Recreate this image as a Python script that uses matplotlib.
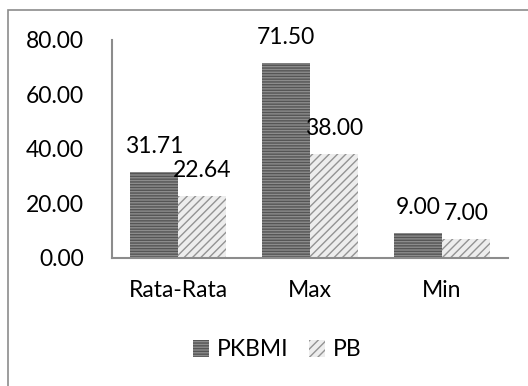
import matplotlib
matplotlib.use('Agg')
import matplotlib.pyplot as plt
import numpy as np
from matplotlib.patches import Rectangle

categories = ['Rata-Rata', 'Max', 'Min']
pkbmi = [31.71, 71.50, 9.00]
pb = [22.64, 38.00, 7.00]
series_names = ['PKBMI', 'PB']
yticks = [0, 20, 40, 60, 80]

plt.rcParams['font.family'] = ['Lato', 'DejaVu Sans']
plt.rcParams['hatch.linewidth'] = 1.0

W, H = 528, 386
fig = plt.figure(figsize=(W / 100, H / 100), dpi=100)
ax = fig.add_axes([112 / W, (H - 258) / H, 396 / W, 218 / H])

# outer chart frame (cut off on the right and bottom like the reference)
fig.add_artist(Rectangle((8 / W, -0.1), 1.2, (H - 10) / H + 0.1, transform=fig.transFigure,
                         fill=False, edgecolor='#8c8c8c', linewidth=1.2))

x = np.arange(len(categories))
bw = 0.36
b1 = ax.bar(x - bw / 2, pkbmi, bw, facecolor='#8c8c8c', edgecolor='#555555',
            hatch='-' * 6, linewidth=0, label=series_names[0])
b2 = ax.bar(x + bw / 2, pb, bw, facecolor='#ededed', edgecolor='#939393',
            hatch='/' * 4, linewidth=0, label=series_names[1])

fs = 16.5
for bars, vals in ((b1, pkbmi), (b2, pb)):
    for rect, v in zip(bars, vals):
        ax.annotate(f'{v:.2f}', (rect.get_x() + rect.get_width() / 2, v),
                    textcoords='offset pixels', xytext=(0, 19),
                    ha='center', va='baseline', fontsize=fs, color='black')

ax.set_xlim(-0.5, 2.5)
ax.set_ylim(0, 80)
ax.set_yticks(yticks)
ax.set_yticklabels([f'{t:.2f}' for t in yticks])
ax.set_xticks(x)
ax.set_xticklabels(categories)
ax.tick_params(axis='both', length=0, labelsize=fs)
ax.tick_params(axis='y', pad=20)
ax.tick_params(axis='x', pad=16)

for s in ('top', 'right'):
    ax.spines[s].set_visible(False)
for s in ('left', 'bottom'):
    ax.spines[s].set_color('#8c8c8c')
    ax.spines[s].set_linewidth(1.5)

leg = fig.legend(handles=[b1, b2], loc='center', bbox_to_anchor=(277 / W, 1 - 350 / H),
                 ncol=2, frameon=False, fontsize=fs, handlelength=0.7, handleheight=0.7,
                 handletextpad=0.35, columnspacing=0.9)

fig.savefig('out.png', dpi=100)
